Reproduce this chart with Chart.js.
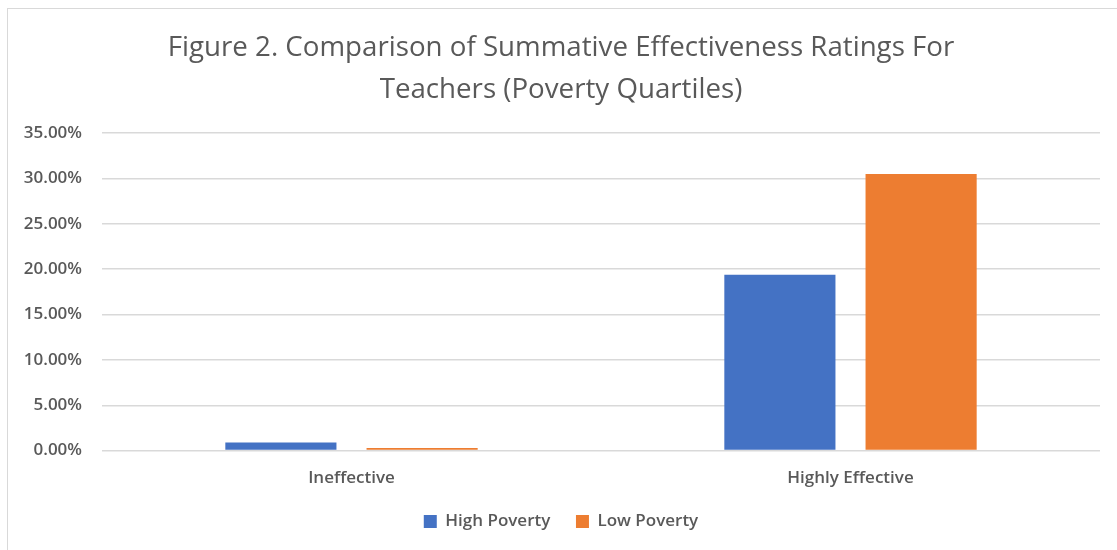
<!DOCTYPE html>
<html>
<head>
<meta charset="utf-8">
<script src="https://cdn.jsdelivr.net/npm/chart.js@4.4.1/dist/chart.umd.min.js"></script>
<style>
  html, body { margin: 0; padding: 0; background: #fff; overflow: hidden; }
  #wrap { position: relative; width: 1117px; height: 550px; }
  #frame { position: absolute; left: 7px; top: 8px; width: 1200px; height: 600px;
           border: 1.5px solid #d9d9d9; box-sizing: border-box; }
  #c { position: absolute; left: 0; top: 0; }
</style>
</head>
<body>
<div id="wrap">
  <div id="frame"></div>
  <canvas id="c" width="1117" height="550"></canvas>
</div>
<script>
// Share of teachers receiving each summative rating, by school poverty quartile (%)
const categories = ['Ineffective', 'Highly Effective'];
const highPoverty = [0.9, 19.4];
const lowPoverty = [0.3, 30.5];
const seriesNames = ['High Poverty', 'Low Poverty'];
const titleLines = ['Figure 2. Comparison of Summative Effectiveness Ratings For', 'Teachers (Poverty Quartiles)'];

const FONT = "'Open Sans', 'Liberation Sans', sans-serif";
const TEXT = '#595959';
const SMALL = { family: FONT, size: 17, weight: '600' };

new Chart(document.getElementById('c'), {
  type: 'bar',
  data: {
    labels: categories,
    datasets: [
      { label: seriesNames[0], data: highPoverty, backgroundColor: '#4472C4',
        categoryPercentage: 0.566, barPercentage: 0.787 },
      { label: seriesNames[1], data: lowPoverty, backgroundColor: '#ED7D31',
        categoryPercentage: 0.566, barPercentage: 0.787 }
    ]
  },
  options: {
    responsive: false,
    animation: false,
    layout: { padding: { left: 22, right: 17, top: 8, bottom: 10 } },
    plugins: {
      title: {
        display: true, text: titleLines, color: TEXT,
        font: { family: FONT, size: 27.7, weight: 'normal', lineHeight: 1.52 },
        padding: { top: 19, bottom: 22 }
      },
      legend: {
        position: 'bottom',
        labels: {
          color: TEXT, font: SMALL, boxWidth: 13, boxHeight: 13, padding: 8,
          // wider gap after the first entry
          generateLabels: chart => Chart.defaults.plugins.legend.labels.generateLabels(chart)
            .map((item, i) => i === 0 ? { ...item, text: item.text + '\u00a0\u00a0\u00a0\u00a0' } : item)
        }
      },
      tooltip: { enabled: false }
    },
    scales: {
      x: {
        grid: { display: false, drawTicks: false },
        border: { display: false },
        ticks: { color: TEXT, font: SMALL, padding: 17 }
      },
      y: {
        min: 0, max: 35,
        grid: { color: '#d9d9d9', lineWidth: 1.5, drawTicks: false },
        border: { display: false },
        ticks: {
          stepSize: 5, color: TEXT, padding: 20, font: SMALL,
          callback: v => v.toFixed(2) + '%'
        },
        afterFit: axis => { axis.width = 80; }
      }
    }
  }
});
</script>
</body>
</html>
